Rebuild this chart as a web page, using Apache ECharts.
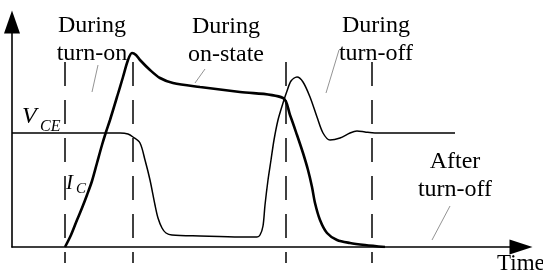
<!DOCTYPE html>
<html lang="en">
<head>
    <meta charset="UTF-8">
    <title>IGBT switching waveforms</title>
    <script src="https://cdn.jsdelivr.net/npm/echarts@6/dist/echarts.min.js"></script>
    <style>
        html, body { margin: 0; padding: 0; background: #fff; }
        #chart1 { width: 543px; height: 277px; }
    </style>
</head>
<body>
<div id="chart1"></div>
<script type="text/javascript">
    // time axis runs 0..509, level axis 0..225 (schematic units)
    var vce = [[0,114],[108,114],[116,113],[121,110],[128,104],[133,87],[138,67],[143,42],[146,29],[150,19],
        [154,14],[160,12],[188,11],[228,10],[245,10],[248,12],[251,21],[253,42],[256,67],[259,87],
        [262,107],[266,127],[271,144],[275,156],[279,166],[285,170],[291,165],[298,150],[305,130],
        [311,114],[318,107],[328,109],[338,114],[345,116],[353,115],[363,114],[443,114]];
    var ic = [[53,0],[59,12],[65,27],[70,39],[75,52],[80,66],[85,84],[90,102],[94,115],[98,127],
        [105,150],[111,170],[116,187],[120,194],[124,192],[128,187],[138,177],[148,169],[161,164],
        [188,160],[228,155],[271,149],[278,132],[285,112],[291,94],[296,77],[300,60],[303,44],
        [308,27],[315,14],[325,7],[338,4],[353,2],[373,0]];
    var phaseEdges = [53, 121, 274, 360];
    var leaders = [
        [[86,182],[80,155]],
        [[193,178],[183,164]],
        [[327,197],[314,154]],
        [[438,41],[420,7]]
    ];
    var labels = [
        {text: 'During\nturn-on', x: 92, y: 12},
        {text: 'During\non-state', x: 226, y: 13},
        {text: 'During\nturn-off', x: 376, y: 12},
        {text: 'After\nturn-off', x: 455, y: 148}
    ];

    var serif = 'Liberation Serif';
    var myChart1 = echarts.init(document.getElementById('chart1'));

    var series = [
        {
            name: 'VCE', type: 'line', xAxisIndex: 0, yAxisIndex: 0,
            data: vce, smooth: 0.3, showSymbol: false, symbol: 'none',
            lineStyle: {color: '#000', width: 1.5}
        },
        {
            name: 'IC', type: 'line', xAxisIndex: 0, yAxisIndex: 0,
            data: ic, smooth: 0.3, showSymbol: false, symbol: 'none',
            lineStyle: {color: '#000', width: 2.6},
            markLine: {
                silent: true, symbol: 'none', animation: false,
                label: {show: false},
                lineStyle: {color: '#777', width: 0.8, type: 'solid'},
                data: leaders.map(function (p) {
                    return [{coord: p[0]}, {coord: p[1]}];
                })
            }
        }
    ];
    phaseEdges.forEach(function (t) {
        series.push({
            type: 'line', xAxisIndex: 1, yAxisIndex: 1,
            data: [[t, 1], [t, 0]], symbol: 'none',
            lineStyle: {color: '#000', width: 1.5, type: [24, 14]}
        });
    });

    var graphic = labels.map(function (l) {
        return {
            type: 'text', x: l.x, y: l.y,
            style: {
                text: l.text, x: 0, y: 0, align: 'center', verticalAlign: 'top',
                font: '24px "' + serif + '"', lineHeight: 28, fill: '#000'
            }
        };
    });
    graphic.push(
        {type: 'text', x: 497, y: 252, style: {text: 'Time', font: '23px "' + serif + '"', fill: '#000', verticalAlign: 'top'}},
        {type: 'text', x: 22, y: 117, style: {text: 'V', font: 'italic 24px "' + serif + '"', fill: '#000', verticalAlign: 'middle'}},
        {type: 'text', x: 40, y: 127, style: {text: 'CE', font: 'italic 16px "' + serif + '"', fill: '#000', verticalAlign: 'middle'}},
        {type: 'text', x: 66, y: 183, style: {text: 'I', font: 'italic 21px "' + serif + '"', fill: '#000', verticalAlign: 'middle'}},
        {type: 'text', x: 76, y: 189, style: {text: 'C', font: 'italic 15px "' + serif + '"', fill: '#000', verticalAlign: 'middle'}}
    );

    myChart1.setOption({
        backgroundColor: '#fff',
        animation: false,
        grid: [
            {left: 12, right: 22, top: 22, bottom: 30},
            {left: 12, right: 22, top: 62, bottom: 14}
        ],
        xAxis: [
            {
                type: 'value', gridIndex: 0, min: 0, max: 509,
                axisLine: {show: true, symbol: ['none', 'triangle'], symbolSize: [15, 23], lineStyle: {color: '#000', width: 1.6}},
                axisTick: {show: false}, axisLabel: {show: false}, splitLine: {show: false}
            },
            {type: 'value', gridIndex: 1, min: 0, max: 509, show: false}
        ],
        yAxis: [
            {
                type: 'value', gridIndex: 0, min: 0, max: 225,
                axisLine: {show: true, onZero: false, symbol: ['none', 'triangle'], symbolSize: [16, 23], lineStyle: {color: '#000', width: 1.6}},
                axisTick: {show: false}, axisLabel: {show: false}, splitLine: {show: false}
            },
            {type: 'value', gridIndex: 1, min: 0, max: 1, show: false}
        ],
        graphic: graphic,
        series: series
    });
</script>
</body>
</html>
